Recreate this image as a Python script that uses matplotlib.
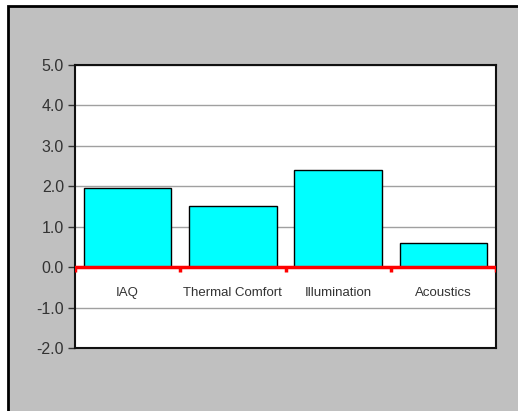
import matplotlib
matplotlib.use("Agg")
import matplotlib.pyplot as plt
from matplotlib.patches import Rectangle
from matplotlib import font_manager

categories = ["IAQ", "Thermal Comfort", "Illumination", "Acoustics"]
scores = [1.95, 1.5, 2.4, 0.6]
yticks = [-2.0, -1.0, 0.0, 1.0, 2.0, 3.0, 4.0, 5.0]

names = {f.name for f in font_manager.fontManager.ttflist}
if "Liberation Sans Narrow" in names:
    cat_font, cat_size = "Liberation Sans Narrow", 11.5
else:
    cat_font, cat_size = "Liberation Sans", 9.5

fig = plt.figure(figsize=(5.18, 4.11), dpi=100, facecolor="white")

# grey chart area with black border (right/bottom run off the picture)
fig.patches.append(Rectangle((7.5 / 518, -0.1), 1.2, (411 - 5.5) / 411 + 0.1,
                             transform=fig.transFigure, facecolor="#c0c0c0",
                             edgecolor="black", linewidth=2, zorder=-10))

ax = fig.add_axes([75 / 518, 63 / 411, 421 / 518, 283 / 411])
ax.set_facecolor("white")

x = range(len(categories))
ax.bar(x, scores, width=0.83, color="cyan", edgecolor="black", linewidth=1, zorder=3)

ax.set_xlim(-0.5, len(categories) - 0.5)
ax.set_ylim(-2, 5)
ax.set_yticks(yticks)
ax.set_yticklabels([f"{v:.1f}" for v in yticks], fontfamily="Liberation Sans",
                   fontsize=11.5, color="#333333")
ax.tick_params(axis="y", direction="out", length=5, width=1, color="#333333", pad=3)
ax.set_xticks([])
ax.grid(axis="y", color="#a0a0a0", linewidth=1, zorder=1)

for s in ax.spines.values():
    s.set_linewidth(1.5)
    s.set_color("#111111")

# red category axis at zero with small tick marks between categories
ax.axhline(0, color="red", linewidth=2.5, zorder=4)
bounds = [i - 0.5 for i in range(len(categories) + 1)]
ax.vlines(bounds, -0.13, 0, color="red", linewidth=2.5, zorder=4)

for i, name in enumerate(categories):
    ax.text(i, -0.65, name, ha="center", va="center", fontsize=cat_size,
            fontfamily=cat_font, color="#333333", zorder=5)

fig.savefig("out.png", dpi=100, facecolor="white")
